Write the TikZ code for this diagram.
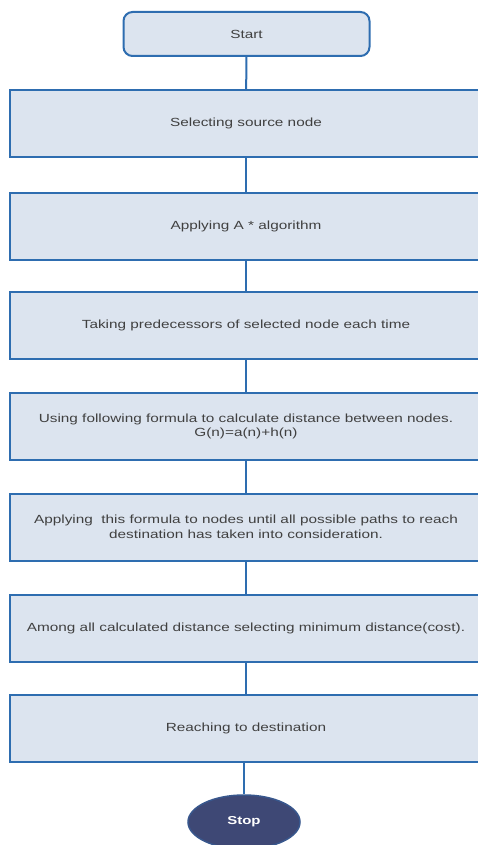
\documentclass[tikz,border=0pt]{standalone}
\usepackage{fontspec}
\setmainfont[FakeStretch=1.3]{Liberation Sans}
\usetikzlibrary{shapes.geometric}
\definecolor{edgeblue}{HTML}{2E6DB0}
\definecolor{boxfill}{HTML}{DCE4EF}
\definecolor{txtgray}{HTML}{404040}
\definecolor{stopfill}{HTML}{3E4875}
\tikzset{
  stepbox/.style={draw=edgeblue, line width=2pt, fill=boxfill, rectangle,
    minimum width=472pt, minimum height=67pt, inner sep=2pt, align=center,
    font=\fontsize{11.8}{14.5}\selectfont, text=txtgray},
  startbox/.style={draw=edgeblue, line width=2pt, fill=boxfill, rectangle, rounded corners=9pt,
    minimum width=246pt, minimum height=44pt, font=\fontsize{11.8}{14.5}\selectfont, text=txtgray},
  stopbox/.style={draw=edgeblue!40!stopfill, line width=1.5pt, fill=stopfill, ellipse,
    minimum width=112pt, minimum height=54pt, inner sep=0pt,
    font=\bfseries\fontsize{11.5}{13}\selectfont, text=white},
  link/.style={draw=edgeblue, line width=2pt}
}
\begin{document}
\begin{tikzpicture}[x=1pt,y=-1pt]
\useasboundingbox (0,0) rectangle (477,845);
\node[startbox] (start) at (246.5,34) {Start};
\node[stepbox] (s1) at (246,123.5) {Selecting source node};
\node[stepbox] (s2) at (246,226) {Applying A * algorithm};
\node[stepbox] (s3) at (246,325.5) {Taking predecessors of selected node each time};
\node[stepbox] (s4) at (246,426.5) {Using following formula to calculate distance between nodes.\\G(n)=a(n)+h(n)};
\node[stepbox] (s5) at (246,527) {Applying\ \ this formula to nodes until all possible paths to reach\\destination has taken into consideration.};
\node[stepbox] (s6) at (246,628.5) {Among all calculated distance selecting minimum distance(cost).};
\node[stepbox] (s7) at (246,728.5) {Reaching to destination};
\node[stopbox] (stop) at (244,822) {Stop};
\draw[link] (start) -- (s1);
\draw[link] (s1) -- (s2);
\draw[link] (s2) -- (s3);
\draw[link] (s3) -- (s4);
\draw[link] (s4) -- (s5);
\draw[link] (s5) -- (s6);
\draw[link] (s6) -- (s7);
\draw[link] (s7.south -| stop.north) -- (stop);
\end{tikzpicture}
\end{document}
